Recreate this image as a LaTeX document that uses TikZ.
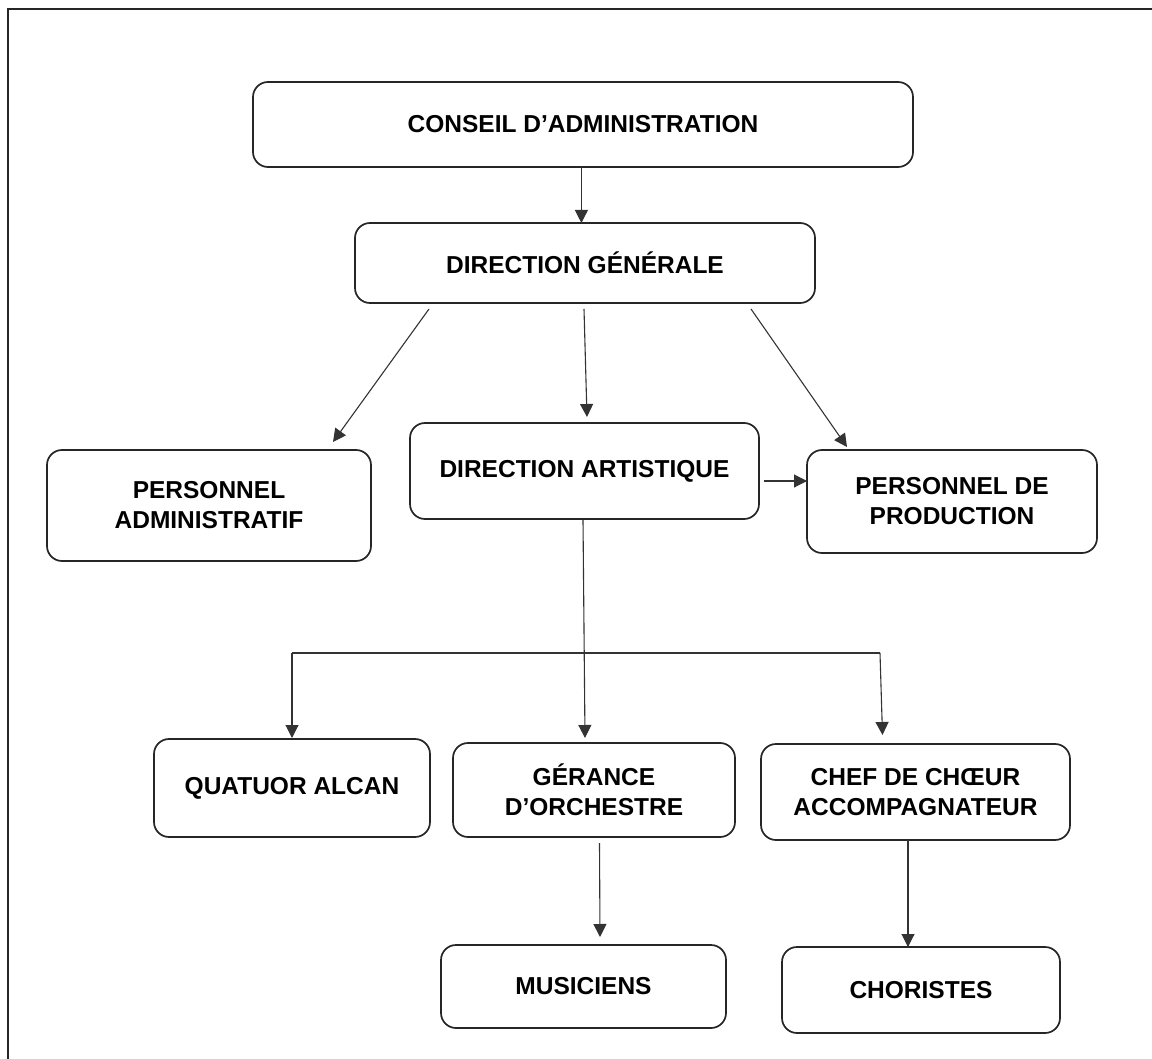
\documentclass[tikz,border=0pt]{standalone}
\usepackage{fontspec}
\setmainfont{Liberation Sans}
\usetikzlibrary{arrows.meta}
\begin{document}
\begin{tikzpicture}[x=1pt,y=-1pt,
  box/.style={draw=black!85, line width=1.7pt, rounded corners=15pt, inner sep=0pt, outer sep=0pt,
    align=center, font=\fontsize{24.5}{30}\selectfont\bfseries},
  arr/.style={draw=black!80, line width=1.1pt, -{Triangle[length=13pt,width=13pt]}},
  link/.style={draw=black!80, line width=1.1pt}]
\useasboundingbox (0,0) rectangle (1152,1059);
% frame (top and left edges)
\draw[black!85, line width=2pt] (7.5,1059) -- (7.5,9) -- (1152,9);
% boxes
\node[box, minimum width=660pt, minimum height=85pt] (ca) at (583,124.5) {CONSEIL D’ADMINISTRATION};
\node[box, minimum width=460pt, minimum height=80pt] (dg) at (585,263) {DIRECTION GÉNÉRALE};
\node[box, minimum width=324pt, minimum height=111pt] (pa) at (209,505.5) {PERSONNEL\\ADMINISTRATIF};
\node[box, minimum width=349pt, minimum height=96pt] (da) at (584.5,471) {DIRECTION ARTISTIQUE};
\node[box, minimum width=290pt, minimum height=103pt] (pp) at (952,501.5) {PERSONNEL DE\\PRODUCTION};
\node[box, minimum width=276pt, minimum height=98pt] (qa) at (292,788) {QUATUOR ALCAN};
\node[box, minimum width=282pt, minimum height=94pt] (go) at (594,790) {GÉRANCE\\D’ORCHESTRE};
\node[box, minimum width=309pt, minimum height=96pt] (cc) at (915.5,792) {CHEF DE CHŒUR\\ACCOMPAGNATEUR};
\node[box, minimum width=285pt, minimum height=83pt] (mu) at (583.5,986.5) {MUSICIENS};
\node[box, minimum width=278pt, minimum height=86pt] (ch) at (921,990) {CHORISTES};
% connectors
\draw[arr] ([xshift=-1.6pt]ca.south) -- ([xshift=-3.6pt]dg.north);
\draw[arr] ([xshift=74pt,yshift=-6pt]dg.south west) -- ([xshift=286pt,yshift=8pt]pa.north west);
\draw[arr] ([xshift=-1pt,yshift=-6pt]dg.south) -- ([xshift=2.5pt,yshift=6pt]da.north);
\draw[arr] ([xshift=-64pt,yshift=-6pt]dg.south east) -- ([xshift=40pt,yshift=3pt]pp.north west);
\draw[arr] ([xshift=5pt,yshift=-10pt]da.east) -- ([yshift=20.5pt]pp.west);
\coordinate (bl) at (292,653);
\coordinate (br) at (880,653);
\draw[link] (bl) -- (br);
\draw[arr] ([xshift=-1.5pt,yshift=-1pt]da.south) -- ([xshift=-9pt,yshift=5pt]go.north);
\draw[arr] (bl) -- ([yshift=1pt]qa.north);
\draw[arr] (br) -- ([xshift=-33pt,yshift=9pt]cc.north);
\draw[arr] ([xshift=5.5pt,yshift=-6pt]go.south) -- ([xshift=16.5pt,yshift=8pt]mu.north);
\draw[arr] ([xshift=-7.5pt]cc.south) -- ([xshift=-13pt]ch.north);
\end{tikzpicture}
\end{document}
